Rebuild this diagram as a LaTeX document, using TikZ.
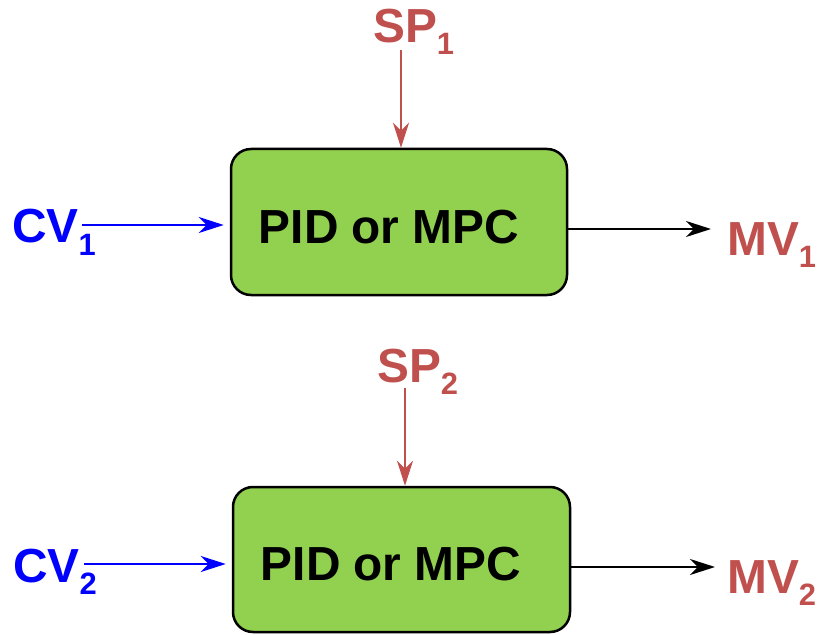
\documentclass[tikz,border=0pt]{standalone}
\usepackage{fontspec}
\setmainfont{Liberation Sans}
\usetikzlibrary{arrows.meta}
\definecolor{ctrlred}{HTML}{C0504D}
\definecolor{ctrlblue}{HTML}{0000FF}
\definecolor{ctrlgreen}{HTML}{92D050}
\newcommand{\lbl}[2]{\fontsize{48}{50}\selectfont\bfseries #1\raisebox{-12bp}{\fontsize{31}{33}\selectfont #2}}
\begin{document}
\begin{tikzpicture}[x=1bp,y=-1bp,
  ctrlbox/.style={draw=black, line width=2.5bp, fill=ctrlgreen, rounded corners=20bp, inner sep=0pt},
  boxtext/.style={font=\fontsize{48}{50}\selectfont\bfseries, inner sep=0pt},
  lab/.style={inner sep=0pt, anchor=base west},
  arr/.style={line width=2.2bp, -{Stealth[length=25bp,width=16bp,inset=8bp]}}]
\useasboundingbox (0,0) rectangle (819,635);
% controller 1
\node[ctrlbox, minimum width=336bp, minimum height=146bp] (box1) at (399,222) {};
\node[boxtext] (txt1) at (389,227.5) {PID or MPC};
\node[lab, text=ctrlred] (sp1) at (373,43) {\lbl{SP}{1}};
\node[lab, text=ctrlblue] (cv1) at (12,243) {\lbl{CV}{1}};
\node[lab, text=ctrlred] (mv1) at (727,255) {\lbl{MV}{1}};
\coordinate (sp1s) at (401,50);
\coordinate (cv1s) at (82,225);
\coordinate (mv1e) at (711,229);
\draw[arr, ctrlred] (sp1s) -- (sp1s |- box1.north);
\draw[arr, ctrlblue, shorten >=6bp] (cv1s) -- (cv1s -| box1.west);
\draw[arr, black] (box1.east |- mv1e) -- (mv1e);
% controller 2
\node[ctrlbox, minimum width=337bp, minimum height=145bp] (box2) at (401.5,559.5) {};
\node[boxtext] (txt2) at (391,564.5) {PID or MPC};
\node[lab, text=ctrlred] (sp2) at (377,382) {\lbl{SP}{2}};
\node[lab, text=ctrlblue] (cv2) at (13,582) {\lbl{CV}{2}};
\node[lab, text=ctrlred] (mv2) at (727,593) {\lbl{MV}{2}};
\coordinate (sp2s) at (405,388);
\coordinate (cv2s) at (84,564);
\coordinate (mv2e) at (715,567);
\draw[arr, ctrlred] (sp2s) -- (sp2s |- box2.north);
\draw[arr, ctrlblue, shorten >=6bp] (cv2s) -- (cv2s -| box2.west);
\draw[arr, black] (box2.east |- mv2e) -- (mv2e);
\end{tikzpicture}
\end{document}
